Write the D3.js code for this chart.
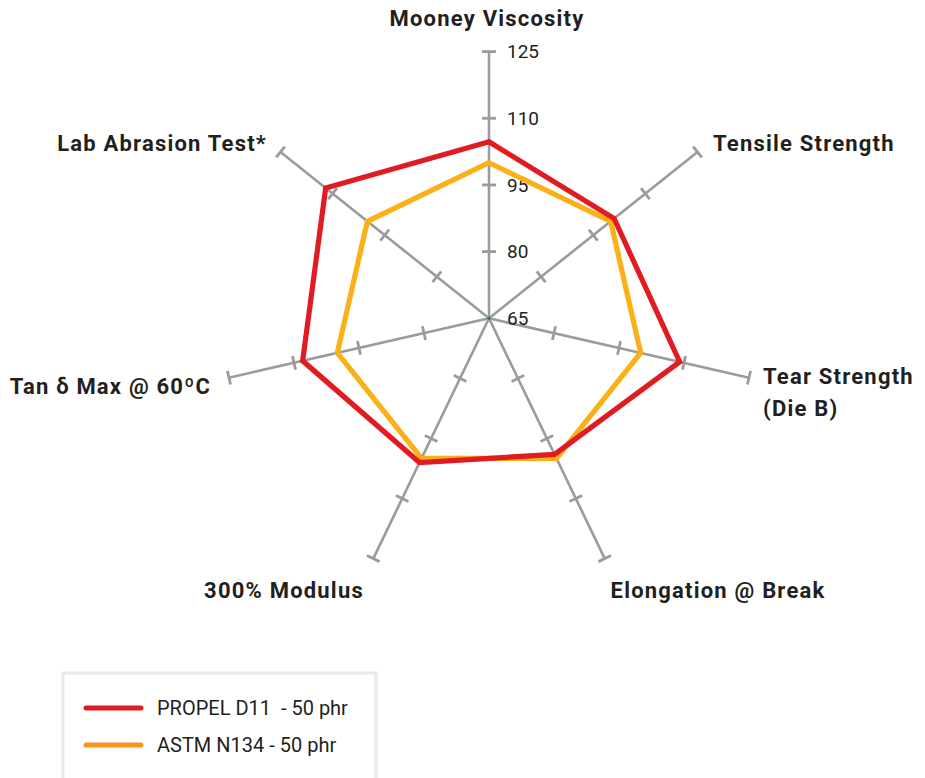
<!DOCTYPE html>
<html><head><meta charset="utf-8">
<script src="https://cdn.jsdelivr.net/npm/d3@7/dist/d3.min.js"></script>
<style>
body{margin:0;background:#fff;}
svg{display:block;}
text{font-family:Roboto, "Noto Sans", sans-serif;fill:#231f20;white-space:pre;}
</style></head><body>
<svg id="chart" width="925" height="778"></svg>
<script>
const categories = ["Mooney Viscosity","Tensile Strength","Tear Strength|(Die B)","Elongation @ Break","300% Modulus","Tan δ Max @ 60ºC","Lab Abrasion Test*"];
const propelValues = [104.7, 101, 109, 99, 101, 108, 112];
const astmValues = [100, 100, 100, 100, 100, 100, 100];
const tickValues = [65, 80, 95, 110, 125];
const seriesNames = ["PROPEL D11  - 50 phr", "ASTM N134 - 50 phr"];

const svg = d3.select("#chart");
const cx = 489, cy = 318.3, R = 266.7;
const r = d3.scaleLinear().domain([65,125]).range([0,R]);
const n = categories.length;
const ang = d3.scaleLinear().domain([0,n]).range([0,2*Math.PI]);
const pt = (i,v) => { const a = ang(i); return [cx + r(v)*Math.sin(a), cy - r(v)*Math.cos(a)]; };

const g = svg.append("g");
// axes
categories.forEach((c,i)=>{
  const [x2,y2] = pt(i,125);
  g.append("line").attr("x1",cx).attr("y1",cy).attr("x2",x2).attr("y2",y2)
    .attr("stroke","#9a9b9d").attr("stroke-width",2.6);
  const a = ang(i);
  const px = Math.cos(a), py = Math.sin(a);
  tickValues.slice(1).forEach(t=>{
    const [tx,ty] = pt(i,t);
    const L = 7;
    g.append("line").attr("x1",tx-px*L).attr("y1",ty-py*L).attr("x2",tx+px*L).attr("y2",ty+py*L)
      .attr("stroke","#9a9b9d").attr("stroke-width",2.8);
  });
});
// tick labels on top axis
tickValues.forEach(t=>{
  const [tx,ty] = pt(0,t);
  g.append("text").attr("x",tx+18).attr("y",ty).attr("dy","0.35em")
    .attr("font-size",19).text(t);
});

// series
const line = d3.line().curve(d3.curveLinearClosed);
const drawSeries = (vals,color)=>{
  g.append("path").datum(vals.map((v,i)=>pt(i,v))).attr("d",line)
    .attr("fill","none").attr("stroke",color).attr("stroke-width",5.2).attr("stroke-linejoin","miter");
};
drawSeries(astmValues,"#fbb017");
drawSeries(propelValues,"#e11b22");
g.append("circle").attr("cx",cx).attr("cy",cy).attr("r",1.5).attr("fill","#2b6a8a");

// category labels
const labelPos = [
  {x:487,y:18,anchor:"middle"},
  {x:713,y:143,anchor:"start"},
  {x:763,y:376,anchor:"start"},
  {x:718,y:590,anchor:"middle"},
  {x:284,y:590,anchor:"middle"},
  {x:211,y:386,anchor:"end"},
  {x:267,y:143,anchor:"end"}
];
categories.forEach((c,i)=>{
  const p = labelPos[i];
  const t = g.append("text").attr("x",p.x).attr("y",p.y)
    .attr("text-anchor",p.anchor).attr("font-size",22).attr("font-weight",700)
    .attr("letter-spacing","1.2px");
  c.split("|").forEach((s,k)=>{
    t.append("tspan").attr("x",p.x).attr("dy",k===0?"0.35em":"1.45em").text(s);
  });
});

// legend
const lg = svg.append("g");
lg.append("rect").attr("x",63).attr("y",673).attr("width",313).attr("height",120)
  .attr("fill","#fff").attr("stroke","#e9e9e9").attr("stroke-width",3);
const legendColors = ["#e11b22","#f7941d"];
seriesNames.forEach((s,i)=>{
  const y = 708 + i*37;
  lg.append("line").attr("x1",86).attr("x2",141).attr("y1",y).attr("y2",y)
    .attr("stroke",legendColors[i]).attr("stroke-width",5).attr("stroke-linecap","round");
  lg.append("text").attr("x",157).attr("y",y).attr("dy","0.35em").attr("font-size",20).text(s);
});
</script></body></html>
